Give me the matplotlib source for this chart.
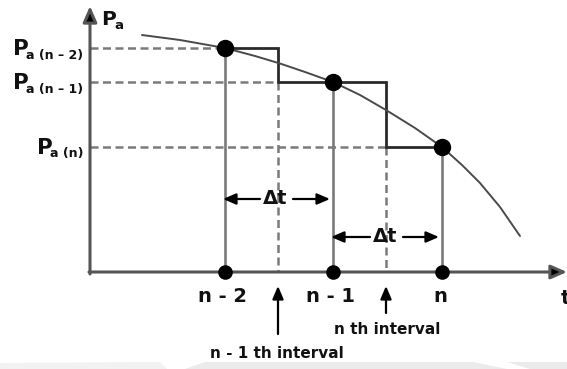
import matplotlib
matplotlib.use("Agg")
import matplotlib.pyplot as plt
from matplotlib.patches import Polygon

plt.rcParams['font.family'] = ['DejaVu Sans']

# ---- data (diagram units = pixels of the reference) ----
t_labels = ['n - 2', 'n - 1', 'n']
t_pos = [225, 333, 442]                 # sample instants along the t axis
p_vals = [48, 82, 147]                  # P_a at those instants (screen y)
p_subs = ['a (n \u2013 2)', 'a (n \u2013 1)', 'a (n)']
mid_pos = [278, 386]                    # interval mid points
interval_labels = ['n - 1 th interval', 'n th interval']
curve_x = [142, 180, 225, 255, 280, 305, 333, 360, 386, 415, 442, 462, 480, 500, 520]
curve_y = [35, 40, 48, 56, 63.5, 72, 82, 95, 110, 128, 147, 165, 183, 207, 236]

# ---- layout ----
x0, y0 = 90, 272                       # origin
W, H = 567, 369
fig = plt.figure(figsize=(W / 100, H / 100), dpi=100)
ax = fig.add_axes([0, 0, 1, 1])
ax.set_xlim(0, W)
ax.set_ylim(H, 0)
ax.axis('off')

ink = '#111111'
axis_c = '#555555'
grey = '#7a7a7a'

# watermark band at the bottom
ax.add_patch(Polygon([(0, 369), (0, 363), (160, 362), (167, 369)], closed=True,
                     fc='#f2f2f2', ec='none'))
ax.add_patch(Polygon([(185, 369), (205, 362), (473, 362), (473, 369)], closed=True,
                     fc='#ebebeb', ec='none'))
ax.add_patch(Polygon([(473, 362), (507, 369), (473, 369)], closed=True,
                     fc='#ebebeb', ec='none'))
ax.add_patch(Polygon([(507, 362), (567, 362), (567, 369), (530, 369)], closed=True,
                     fc='#ebebeb', ec='none'))

# axes with arrow heads
ax.annotate('', xy=(x0, 6), xytext=(x0, y0 + 2),
            arrowprops=dict(arrowstyle='-|>,head_length=0.8,head_width=0.35',
                            color=axis_c, lw=2.2, mutation_scale=12,
                            shrinkA=0, shrinkB=0, fc='black', ec=axis_c))
ax.annotate('', xy=(567, y0), xytext=(x0 - 1, y0),
            arrowprops=dict(arrowstyle='-|>,head_length=0.8,head_width=0.35',
                            color=axis_c, lw=2.2, mutation_scale=12,
                            shrinkA=0, shrinkB=0, fc='black', ec=axis_c))

dash = (3.2, 1.8)
# dashed horizontal guides
ax.plot([x0, t_pos[0]], [p_vals[0], p_vals[0]], color=grey, lw=1.8, dashes=dash)
ax.plot([x0, mid_pos[0]], [p_vals[1], p_vals[1]], color=grey, lw=1.8, dashes=dash)
ax.plot([x0, mid_pos[1]], [p_vals[2], p_vals[2]], color=grey, lw=1.8, dashes=dash)
# dashed vertical guides at interval mids
ax.plot([mid_pos[0], mid_pos[0]], [p_vals[1], y0], color=grey, lw=1.8, dashes=dash)
ax.plot([mid_pos[1], mid_pos[1]], [p_vals[2], y0], color=grey, lw=1.8, dashes=dash)

# solid verticals at sample instants
for x, y in zip(t_pos, p_vals):
    ax.plot([x, x], [y, y0], color=grey, lw=1.9, solid_capstyle='butt')

# step line
sx = [t_pos[0], mid_pos[0], mid_pos[0], mid_pos[1], mid_pos[1], t_pos[2]]
sy = [p_vals[0], p_vals[0], p_vals[1], p_vals[1], p_vals[2], p_vals[2]]
ax.plot(sx, sy, color='#2a2a2a', lw=2.0, solid_joinstyle='miter')

# curve
ax.plot(curve_x, curve_y, color='#4a4a4a', lw=1.4, solid_capstyle='round')

# markers
ax.plot(t_pos, p_vals, 'o', color='black', ms=11.5, zorder=5)
ax.plot(t_pos, [y0] * 3, 'o', color='black', ms=9.5, zorder=5)

# delta-t arrows
astyle = '-|>,head_length=0.7,head_width=0.3'
ms_arrow = 11
for (xa, xb, yy, xc) in [(t_pos[0], t_pos[1], 199, 275), (t_pos[1], t_pos[2], 237, 385)]:
    ax.annotate('', xy=(xa - 2, yy), xytext=(xc - 15, yy),
                arrowprops=dict(arrowstyle=astyle, color='black', lw=1.6,
                                mutation_scale=ms_arrow, shrinkA=0, shrinkB=0))
    ax.annotate('', xy=(xb - 3, yy), xytext=(xc + 18, yy),
                arrowprops=dict(arrowstyle=astyle, color='black', lw=1.6,
                                mutation_scale=ms_arrow, shrinkA=0, shrinkB=0))
    ax.text(xc, yy, '\u0394t', ha='center', va='center', fontsize=14,
            fontweight='bold', color=ink)

# t axis labels
for x, lab in zip(t_pos, t_labels):
    ax.text(x - 2, 297, lab, ha='center', va='center', fontsize=14,
            fontweight='bold', color=ink)
ax.text(561, 299, 't', ha='left', va='center', fontsize=14,
        fontweight='bold', color=ink)

# interval pointer arrows
for x, ybot in zip(mid_pos, [334, 313]):
    ax.annotate('', xy=(x, 286), xytext=(x, ybot),
                arrowprops=dict(arrowstyle=astyle, color='black', lw=1.6,
                                mutation_scale=ms_arrow, shrinkA=0, shrinkB=0))
ax.text(277, 353, interval_labels[0], ha='center', va='center', fontsize=11,
        fontweight='bold', color=ink)
ax.text(387, 330, interval_labels[1], ha='center', va='center', fontsize=11,
        fontweight='bold', color=ink)

# P labels
p_left = [13, 13, 37]
p_base = [55, 89, 154]
for xl, yb, sub in zip(p_left, p_base, p_subs):
    ax.text(xl, yb, 'P', ha='left', va='baseline', fontsize=15.5,
            fontweight='bold', color=ink)
    ax.text(xl + 13.5, yb + 3.5, sub, ha='left', va='baseline', fontsize=9,
            fontweight='bold', color=ink)
ax.text(101, 25, 'P', ha='left', va='baseline', fontsize=14.5,
        fontweight='bold', color=ink)
ax.text(114.5, 29, 'a', ha='left', va='baseline', fontsize=9.5,
        fontweight='bold', color=ink)

fig.savefig('out.png', dpi=100)
